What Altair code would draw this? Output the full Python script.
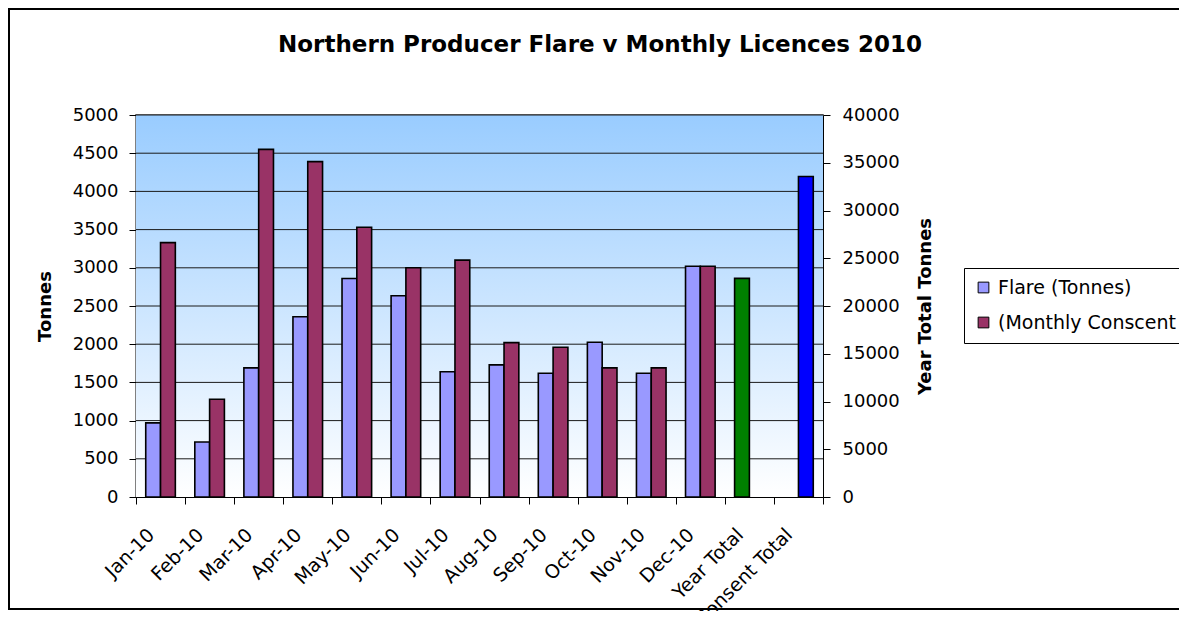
import altair as alt
import pandas as pd

# ---- data ----
months = ["Jan-10", "Feb-10", "Mar-10", "Apr-10", "May-10", "Jun-10",
          "Jul-10", "Aug-10", "Sep-10", "Oct-10", "Nov-10", "Dec-10"]
flare = [970, 720, 1690, 2360, 2860, 2635, 1640, 1730, 1620, 2025, 1620, 3020]
consent = [3330, 1280, 4550, 4390, 3530, 3000, 3100, 2020, 1960, 1690, 1690, 3020]
total_cats = ["Year Total", "Consent Total"]
total_vals = [22890, 33560]
series_names = ["Flare (Tonnes)", "(Monthly Conscent", "Year Total", "Consent Total"]
series_colors = ["#9999FF", "#993366", "#008000", "#0000FF"]
left_ticks = list(range(0, 5001, 500))
right_ticks = list(range(0, 40001, 5000))
categories = months + total_cats
title_text = "Northern Producer Flare v Monthly Licences 2010"

monthly_df = pd.DataFrame({
    "cat": months * 2,
    "series": [series_names[0]] * 12 + [series_names[1]] * 12,
    "slot": ["A"] * 12 + ["B"] * 12,
    "value": flare + consent,
})
totals_df = pd.DataFrame({
    "cat": total_cats,
    "series": series_names[2:],
    "slot": ["A", "B"],
    "value": total_vals,
})
grid_df = pd.DataFrame({"value": left_ticks[1:]})

W, H = 687, 382
FONT = "DejaVu Sans"

x_enc = alt.X(
    "cat:N",
    scale=alt.Scale(domain=categories, paddingInner=0, paddingOuter=0),
    axis=alt.Axis(title=None, labelAngle=-45, labelAlign="right", labelBaseline="top",
                  labelOffset=-16, labelPadding=21, tickBand="extent", tickSize=7,
                  labelOverlap=False, labelBound=False, grid=False,
                  labelFont=FONT, labelFontSize=19, labelColor="black",
                  domainColor="black", tickColor="black"),
)
xoff_enc = alt.XOffset("slot:N", scale=alt.Scale(domain=["A", "B"], paddingInner=0, paddingOuter=0.658))

legend = alt.Legend(
    title=None, orient="none", legendX=828, legendY=153,
    values=series_names[:2], symbolType="square", symbolSize=115,
    symbolStrokeColor="black", symbolStrokeWidth=1, symbolOpacity=1,
    strokeColor="black", fillColor="white", padding=10, rowPadding=15,
    labelOffset=5, labelFont=FONT, labelFontSize=19, labelColor="black", labelLimit=400,
)
color_enc = alt.Color("series:N", scale=alt.Scale(domain=series_names, range=series_colors), legend=legend)

axis_style = dict(labelFont=FONT, labelFontSize=18, labelColor="black",
                  titleFont=FONT, titleFontSize=18, titleFontWeight="bold", titleColor="black",
                  domainColor="black", tickColor="black", format="d", grid=False, tickSize=7)

left_axis = alt.Axis(title="Tonnes", values=left_ticks, labelPadding=11,
                     orient="left", titleX=-91, titleY=H / 2, titleAngle=-90,
                     titleAlign="center", titleBaseline="middle", **axis_style)
left_y = alt.Y("value:Q", scale=alt.Scale(domain=[0, 5000], nice=False), axis=left_axis)

right_axis = alt.Axis(title="Year Total Tonnes", values=right_ticks,
                      labelPadding=12, orient="right", titleX=102, titleY=H / 2, titleAngle=-90,
                      titleAlign="center", titleBaseline="middle", **axis_style)
right_y = alt.Y("value:Q", scale=alt.Scale(domain=[0, 40000], nice=False), axis=right_axis)

bg = alt.Chart(alt.Data(values=[{}])).mark_rect(
    fill=alt.LinearGradient(
        gradient="linear",
        stops=[alt.GradientStop(color="#99CCFF", offset=0), alt.GradientStop(color="#FFFFFF", offset=1)],
        x1=0, x2=0, y1=0, y2=1,
    )
).encode(x=alt.value(0), x2=alt.value("width"), y=alt.value(0), y2=alt.value("height"))

grid = alt.Chart(grid_df).mark_rule(color="#1a1a1a", strokeWidth=1).encode(y=left_y)

monthly_bars = alt.Chart(monthly_df).mark_bar(stroke="black", strokeWidth=1.6).encode(
    x=x_enc, xOffset=xoff_enc, y=left_y, color=color_enc
)

totals_bars = alt.Chart(totals_df).mark_bar(stroke="black", strokeWidth=1.6).encode(
    x=x_enc, xOffset=xoff_enc, y=right_y, color=color_enc
)

frame = alt.Chart(alt.Data(values=[{}])).mark_rect(fillOpacity=0, stroke="black", strokeWidth=2).encode(
    x=alt.value(-127), x2=alt.value(1100), y=alt.value(-106), y2=alt.value(494)
)

title = alt.Chart(alt.Data(values=[{}])).mark_text(
    font=FONT, fontSize=23, fontWeight="bold", align="center", baseline="alphabetic", color="black"
).encode(x=alt.value(464), y=alt.value(-63), text=alt.value(title_text))

left_layer = alt.layer(bg, grid, monthly_bars)

chart = alt.layer(left_layer, totals_bars, frame, title).resolve_scale(y="independent").properties(
    width=W, height=H,
    padding={"left": 128, "top": 107, "right": 356, "bottom": 114},
    autosize=alt.AutoSizeParams(type="none"),
    background="white",
).configure_view(
    stroke="#808080", strokeWidth=2
)

chart.save("out.html", embed_options={"renderer": "svg", "actions": False})
